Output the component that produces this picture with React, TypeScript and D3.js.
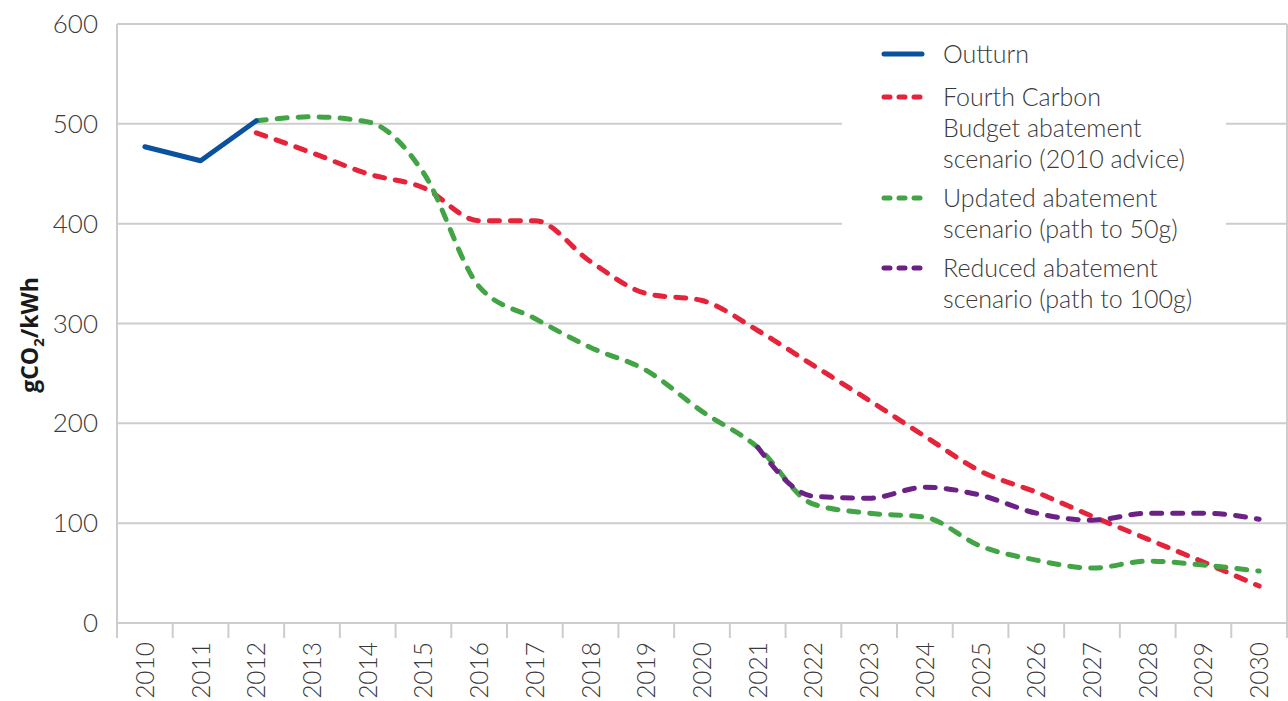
import * as d3 from "d3";

const years = d3.range(2010, 2031).map(String);
const yTicks = [0, 100, 200, 300, 400, 500, 600];

// values (gCO2/kWh)
const outturn: [string, number][] = [["2010", 477], ["2011", 463], ["2012", 503]];
const fourthBudget = [491, 471, 450, 436, 403, 403, 362, 330, 323, 293, 258, 223, 187, 152, 131, 107, 84, 61, 37];
const fourthYears = years.slice(2);
const updated = [503, 507, 502, 451, 337, 305, 276, 253, 212, 176, 119, 110, 106, 77, 63, 55, 62, 58, 52];
const updatedYears = years.slice(2);
const reduced = [176, 127, 125, 136, 128, 110, 103, 110, 110, 104];
const reducedYears = years.slice(11);

const legendItems = [
    {lines: ["Outturn"], color: "#0a519e", dashed: false},
    {lines: ["Fourth Carbon", "Budget abatement", "scenario (2010 advice)"], color: "#e5243b", dashed: true},
    {lines: ["Updated abatement", "scenario (path to 50g)"], color: "#43a446", dashed: true},
    {lines: ["Reduced abatement", "scenario (path to 100g)"], color: "#6b2185", dashed: true},
];

const font = "Lato, 'Open Sans', sans-serif";
const boldFont = "'Open Sans', 'Noto Sans', sans-serif";
const textColor = "#3a3a3a";
const gridColor = "#cdcdcd";

export default function App() {
    const width = 1288, height = 701;
    const left = 117, right = 1287, top = 24, bottom = 623;

    const x = d3.scaleBand<string>().domain(years).range([left, right]);
    const y = d3.scaleLinear().domain([0, 600]).range([bottom, top]);
    const cx = (yr: string) => (x(yr) ?? 0) + x.bandwidth() / 2;

    const smooth = d3.line<[string, number]>()
        .x(d => cx(d[0]))
        .y(d => y(d[1]))
        .curve(d3.curveMonotoneX);
    const straight = d3.line<[string, number]>()
        .x(d => cx(d[0]))
        .y(d => y(d[1]));

    const zip = (ys: string[], vs: number[]) => ys.map((yr, i) => [yr, vs[i]] as [string, number]);

    const series = [
        {d: smooth(zip(fourthYears, fourthBudget)), color: legendItems[1].color},
        {d: smooth(zip(updatedYears, updated)), color: legendItems[2].color},
        {d: smooth(zip(reducedYears, reduced)), color: legendItems[3].color},
    ];

    // legend layout
    const lineH = 31;
    const legendStarts = [54, 97, 198, 268];

    return <svg width={width} height={height} style={{position: "absolute", left: 0, top: 0, background: "#fff"}}>
        {yTicks.map(t => (
            <line key={t} x1={left} x2={right} y1={y(t)} y2={y(t)} stroke={gridColor} strokeWidth={2}/>
        ))}
        <line x1={left} x2={left} y1={top} y2={bottom + 15} stroke={gridColor} strokeWidth={2}/>
        <line x1={right} x2={right} y1={top} y2={bottom + 15} stroke={gridColor} strokeWidth={2}/>
        {years.map(yr => (
            <line key={yr} x1={x(yr)} x2={x(yr)} y1={bottom} y2={bottom + 15} stroke={gridColor} strokeWidth={2}/>
        ))}
        {yTicks.map(t => (
            <text key={t} x={98} y={y(t) + 9} textAnchor="end" fontFamily={font} fontWeight={300}
                  fontSize={26} fill={textColor}>{t}</text>
        ))}
        {years.map(yr => (
            <text key={yr} transform={`translate(${cx(yr) + 9},${bottom + 19}) rotate(-90)`} textAnchor="end"
                  fontFamily={font} fontWeight={300} fontSize={24.5} fill={textColor}>{yr}</text>
        ))}
        <text transform="translate(38,335) rotate(-90)" textAnchor="middle" fontFamily={boldFont} fontWeight={700}
              fontSize={23} fill="#1a1a1a">
            gCO<tspan fontSize={15} dy={6}>2</tspan><tspan dy={-6}>/kWh</tspan>
        </text>

        <rect x={842} y={32} width={384} height={286} fill="#fff"/>

        {series.map((s, i) => (
            <path key={i} d={s.d ?? ""} fill="none" stroke={s.color} strokeWidth={5}
                  strokeDasharray="10,11" strokeLinecap="round"/>
        ))}
        <path d={straight(outturn) ?? ""} fill="none" stroke={legendItems[0].color} strokeWidth={5}
              strokeLinejoin="round" strokeLinecap="round"/>

        {legendItems.map((item, i) => (
            <g key={i}>
                <line x1={884} x2={922} y1={legendStarts[i]} y2={legendStarts[i]} stroke={item.color}
                      strokeWidth={5} strokeLinecap="round" strokeDasharray={item.dashed ? "6,9" : undefined}/>
                {item.lines.map((l, j) => (
                    <text key={j} x={943} y={legendStarts[i] + 9 + j * lineH} fontFamily={font} fontWeight={300}
                          fontSize={25} fill={textColor}>{l}</text>
                ))}
            </g>
        ))}
    </svg>;
}
